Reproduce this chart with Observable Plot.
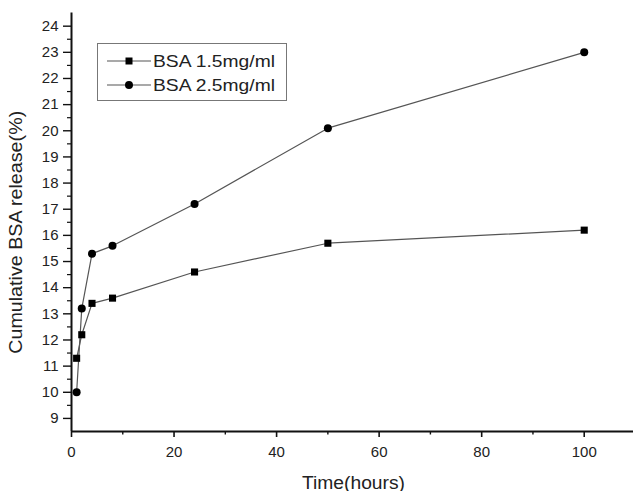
<!DOCTYPE html>
<html>
<head>
<meta charset="utf-8">
<script src="https://cdn.jsdelivr.net/npm/d3@7"></script>
<script src="https://cdn.jsdelivr.net/npm/@observablehq/plot@0.6"></script>
<style>
  html, body { margin: 0; padding: 0; background: white; }
  #wrap { position: relative; width: 633px; height: 491px; }
  #legend { position: absolute; left: 97px; top: 43px; width: 190px; height: 58px; box-sizing: border-box; border: 1px solid #777; background: white; }
</style>
</head>
<body>
<div id="wrap"><div id="chart"></div><div id="legend"></div></div>
<script>
// ---- data ----
const seriesNames = ["BSA 1.5mg/ml", "BSA 2.5mg/ml"];
const timeHours = [1, 2, 4, 8, 24, 50, 100];
const bsa15 = [11.3, 12.2, 13.4, 13.6, 14.6, 15.7, 16.2];
const bsa25 = [10.0, 13.2, 15.3, 15.6, 17.2, 20.1, 23.0];
const xMajorTicks = [0, 20, 40, 60, 80, 100];
const xMinorTicks = [10, 30, 50, 70, 90, 110];
const yMajorTicks = [9, 10, 11, 12, 13, 14, 15, 16, 17, 18, 19, 20, 21, 22, 23, 24];
const yMinorTicks = [9.5, 10.5, 11.5, 12.5, 13.5, 14.5, 15.5, 16.5, 17.5, 18.5, 19.5, 20.5, 21.5, 22.5, 23.5];
const xLabel = "Time(hours)";
const yLabel = "Cumulative BSA release(%)";

const rows = [];
timeHours.forEach((t, i) => rows.push({series: seriesNames[0], time: t, value: bsa15[i]}));
timeHours.forEach((t, i) => rows.push({series: seriesNames[1], time: t, value: bsa25[i]}));

const FONT = "'Liberation Sans', Arial, Helvetica, sans-serif";

const chart = Plot.plot({
  width: 633,
  height: 491,
  marginLeft: 71,
  marginRight: -2,
  marginTop: 12.6,
  marginBottom: 60,
  style: {fontFamily: FONT, fontSize: "15px", color: "#222", background: "white"},
  x: {domain: [0, 110]},
  y: {domain: [8.5, 24.5]},
  symbol: {domain: seriesNames, range: ["square", "circle"]},
  marks: [
    Plot.axisX({ticks: xMajorTicks, tickSize: 6, tickPadding: 9, strokeWidth: 1.6, stroke: "#111",
      label: xLabel, labelAnchor: "center", labelArrow: "none", labelOffset: 57}),
    Plot.axisX({ticks: xMinorTicks, tickSize: 3.5, strokeWidth: 1.4, stroke: "#111", text: null, label: null}),
    Plot.axisY({ticks: yMajorTicks, tickSize: 8, tickPadding: 5, strokeWidth: 1.4, stroke: "#111",
      label: yLabel, labelAnchor: "center", labelArrow: "none", labelOffset: 62}),
    Plot.axisY({ticks: yMinorTicks, tickSize: 4, strokeWidth: 1.2, stroke: "#111", text: null, label: null}),
    Plot.ruleY([8.5], {stroke: "#111", strokeWidth: 2}),
    Plot.ruleX([0], {stroke: "#111", strokeWidth: 2}),
    Plot.line(rows, {x: "time", y: "value", z: "series", stroke: "#555", strokeWidth: 1.2}),
    Plot.dot(rows, {x: "time", y: "value", symbol: "series", fill: "black", stroke: "none", r: 4})
  ]
});
document.getElementById("chart").appendChild(chart);

// axis label styling
const svg = d3.select(chart);
svg.selectAll('g[aria-label="x-axis label"] text')
  .style("font-size", "18px").attr("textLength", 103).attr("lengthAdjust", "spacingAndGlyphs");
svg.selectAll('g[aria-label="y-axis label"] text')
  .style("font-size", "18px").attr("dx", -10).attr("textLength", 243).attr("lengthAdjust", "spacingAndGlyphs");

// legend
const lg = d3.select("#legend").append("svg").attr("width", 188).attr("height", 56)
  .style("font-family", FONT);
const symbolPaths = [d3.symbol(d3.symbolSquare, 49)(), d3.symbol(d3.symbolCircle, 50)()];
seriesNames.forEach((name, i) => {
  const cy = 17 + i * 24;
  lg.append("line").attr("x1", 9).attr("x2", 53).attr("y1", cy).attr("y2", cy)
    .attr("stroke", "#555").attr("stroke-width", 1.2);
  lg.append("path").attr("d", symbolPaths[i]).attr("transform", `translate(31,${cy})`).attr("fill", "black");
  lg.append("text").attr("x", 55).attr("y", cy + 6).attr("font-size", 17).attr("fill", "#222")
    .attr("textLength", 122).attr("lengthAdjust", "spacingAndGlyphs").text(name);
});
</script>
</body>
</html>
